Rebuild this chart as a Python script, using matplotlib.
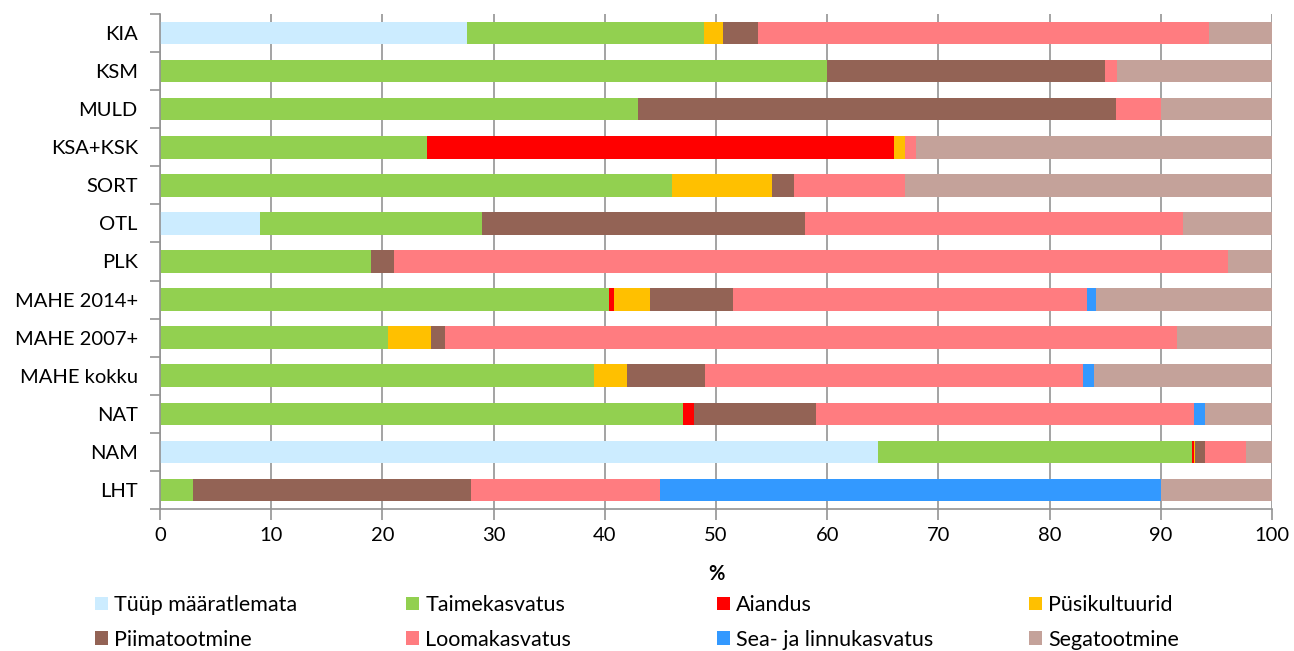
import matplotlib.pyplot as plt
import numpy as np

plt.rcParams['font.family'] = ['Lato', 'DejaVu Sans']

categories = ['KIA', 'KSM', 'MULD', 'KSA+KSK', 'SORT', 'OTL', 'PLK',
              'MAHE 2014+', 'MAHE 2007+', 'MAHE kokku', 'NAT', 'NAM', 'LHT']

series_names = ['Tüüp määratlemata', 'Taimekasvatus', 'Aiandus', 'Püsikultuurid',
                'Piimatootmine', 'Loomakasvatus', 'Sea- ja linnukasvatus', 'Segatootmine']

# shares in %, one list per series, in category order
tyyp = [27.6, 0, 0, 0, 0, 9.0, 0, 0, 0, 0, 0, 64.6, 0]
taime = [21.3, 60.0, 43.0, 24.0, 46.0, 20.0, 19.0, 40.4, 20.5, 39.0, 47.0, 28.2, 3.0]
aiandus = [0, 0, 0, 42.0, 0, 0, 0, 0.4, 0, 0, 1.0, 0.15, 0]
pysi = [1.7, 0, 0, 1.0, 9.0, 0, 0, 3.3, 3.9, 3.0, 0, 0.15, 0]
piim = [3.2, 25.0, 43.0, 0, 2.0, 29.0, 2.0, 7.4, 1.2, 7.0, 11.0, 0.9, 25.0]
looma = [40.5, 1.1, 4.0, 1.0, 10.0, 34.0, 75.0, 31.9, 65.9, 34.0, 34.0, 3.7, 17.0]
sea = [0, 0, 0, 0, 0, 0, 0, 0.8, 0, 1.0, 1.0, 0, 45.0]
sega = [5.7, 13.9, 10.0, 32.0, 33.0, 8.0, 4.0, 15.8, 8.5, 16.0, 6.0, 2.3, 10.0]

colors = ['#CCECFF', '#92D050', '#FF0000', '#FFC000',
          '#936355', '#FF7C80', '#3399FF', '#C4A29A']

data = [tyyp, taime, aiandus, pysi, piim, looma, sea, sega]

fig = plt.figure(figsize=(12.94, 6.51), dpi=100)
ax = fig.add_axes([160 / 1294, 1 - 509 / 651, 1112 / 1294, 495 / 651])

y = np.arange(len(categories))
left = np.zeros(len(categories))
handles = []
for vals, name, col in zip(data, series_names, colors):
    vals = np.array(vals)
    h = ax.barh(y, vals, left=left, height=0.59, color=col, label=name, zorder=2)
    handles.append(h)
    left += vals

ax.set_xlim(0, 100)
ax.set_ylim(len(categories) - 0.5, -0.5)
ax.set_xticks(np.arange(0, 101, 10))
ax.set_yticks(y)
ax.set_yticklabels(categories)
ax.set_yticks(np.arange(-0.5, len(categories), 1), minor=True)

grey = '#939393'
ax.grid(axis='x', color=grey, linewidth=1.2, zorder=0)
ax.set_axisbelow(True)
for s in ['top', 'right']:
    ax.spines[s].set_visible(False)
for s in ['left', 'bottom']:
    ax.spines[s].set_color(grey)
    ax.spines[s].set_linewidth(1.2)

ax.tick_params(axis='y', which='major', length=0, pad=16, labelsize=14.5)
ax.tick_params(axis='y', which='minor', length=7, color=grey, width=1.2)
ax.tick_params(axis='x', length=8, color=grey, width=1.2, labelsize=14.5, pad=5)

ax.set_xlabel('%', fontsize=14.5, fontweight='bold', labelpad=14)

# legend: four columns of two rows
col_x = [95 / 1294, 406 / 1294, 717 / 1294, 1029 / 1294]
for i, x in enumerate(col_x):
    fig.legend(handles=[handles[i], handles[i + 4]], loc='upper left',
               bbox_to_anchor=(x, 1 - 595 / 651), frameon=False, fontsize=15.5,
               handlelength=0.6, handleheight=0.6, handletextpad=0.3,
               labelspacing=0.68, borderaxespad=0, borderpad=0)

fig.savefig('out.png', dpi=100)
